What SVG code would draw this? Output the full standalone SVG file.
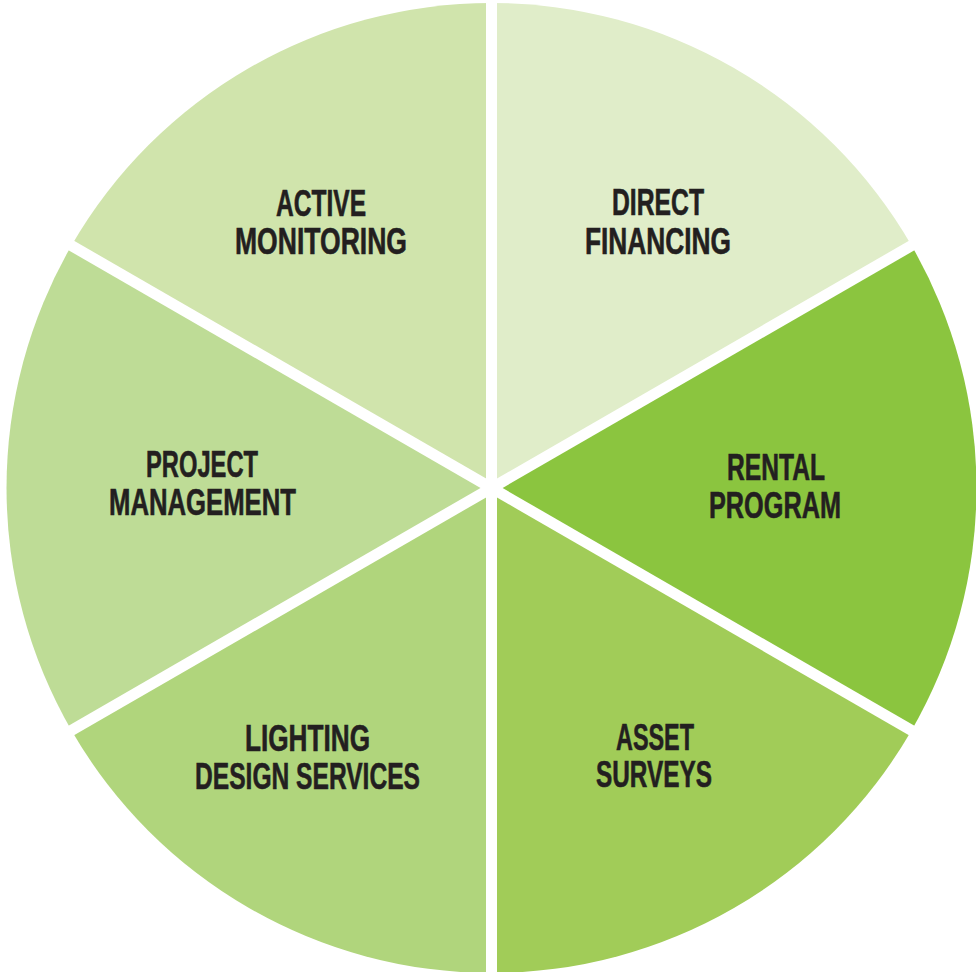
<svg xmlns="http://www.w3.org/2000/svg" width="976" height="972" viewBox="0 0 976 972">
<style>
.lbl{font-family:"Liberation Sans",Arial,sans-serif;font-weight:bold;font-size:36px;fill:#231f20;stroke:#231f20;stroke-width:0.6;text-anchor:middle}
.gap{stroke:#ffffff;stroke-width:11;fill:none}
</style>
<rect width="976" height="972" fill="#ffffff"/>
<g id="direct-financing">
<path d="M491.5 488 L491.5 3 A485 485 0 0 1 911.5 245.5 Z" fill="#e0edc9"/>
<text class="lbl" x="658" y="215" textLength="92" lengthAdjust="spacingAndGlyphs">DIRECT</text>
<text class="lbl" x="658" y="254" textLength="146" lengthAdjust="spacingAndGlyphs">FINANCING</text>
</g>
<g id="rental-program">
<path d="M491.5 488 L911.5 245.5 A485 485 0 0 1 911.5 730.5 Z" fill="#8bc53f"/>
<text class="lbl" x="776" y="480" textLength="98" lengthAdjust="spacingAndGlyphs">RENTAL</text>
<text class="lbl" x="775" y="518" textLength="132" lengthAdjust="spacingAndGlyphs">PROGRAM</text>
</g>
<g id="asset-surveys">
<path d="M491.5 488 L911.5 730.5 A485 485 0 0 1 491.5 973 Z" fill="#a1cc58"/>
<text class="lbl" x="655" y="750" textLength="78" lengthAdjust="spacingAndGlyphs">ASSET</text>
<text class="lbl" x="654" y="787" textLength="116" lengthAdjust="spacingAndGlyphs">SURVEYS</text>
</g>
<g id="lighting-design-services">
<path d="M491.5 488 L491.5 973 A485 485 0 0 1 71.5 730.5 Z" fill="#b0d57c"/>
<text class="lbl" x="307.5" y="751" textLength="125" lengthAdjust="spacingAndGlyphs">LIGHTING</text>
<text class="lbl" x="307.5" y="789" textLength="225" lengthAdjust="spacingAndGlyphs">DESIGN SERVICES</text>
</g>
<g id="project-management">
<path d="M491.5 488 L71.5 730.5 A485 485 0 0 1 71.5 245.5 Z" fill="#bedc96"/>
<text class="lbl" x="202" y="477" textLength="112" lengthAdjust="spacingAndGlyphs">PROJECT</text>
<text class="lbl" x="202.5" y="515" textLength="187" lengthAdjust="spacingAndGlyphs">MANAGEMENT</text>
</g>
<g id="active-monitoring">
<path d="M491.5 488 L71.5 245.5 A485 485 0 0 1 491.5 3 Z" fill="#d0e4ac"/>
<text class="lbl" x="321" y="216" textLength="90" lengthAdjust="spacingAndGlyphs">ACTIVE</text>
<text class="lbl" x="321" y="254" textLength="172" lengthAdjust="spacingAndGlyphs">MONITORING</text>
</g>
<g id="dividers">
<line class="gap" x1="491.5" y1="-10" x2="491.5" y2="990"/>
<line class="gap" x1="923" y1="239" x2="60" y2="737"/>
<line class="gap" x1="60" y1="239" x2="923" y2="737"/>
</g>
</svg>
